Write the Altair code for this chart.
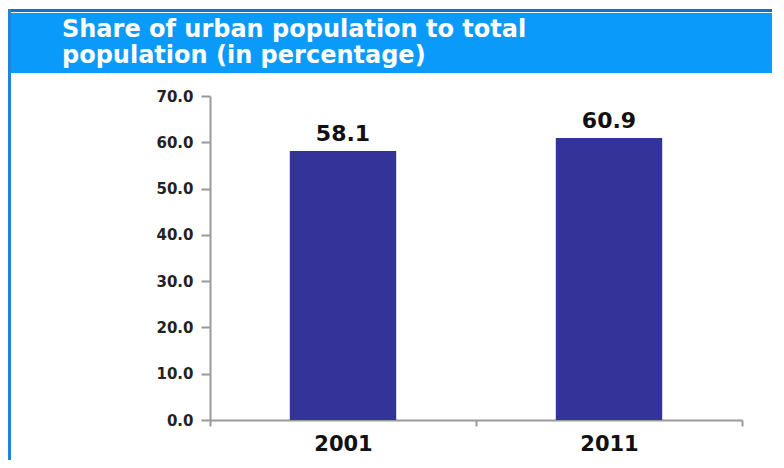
import altair as alt
import pandas as pd

YEARS = ["2001", "2011"]
SHARE = [58.1, 60.9]
LABELS = ["58.1", "60.9"]
TITLE_LINES = ["Share of urban population to total", "population (in percentage)"]
Y_TICKS = [0, 10, 20, 30, 40, 50, 60, 70]

FONT = "DejaVu Sans"
BAR = "#333399"
HEADER = "#0A9BFA"
TOPLINE = "#1070C4"
BORDER = "#2383D6"

df = pd.DataFrame({"year": YEARS, "share": SHARE, "label": LABELS})
one = pd.DataFrame({"d": [0]})

xenc = alt.X(
    "year:N",
    sort=YEARS,
    scale=alt.Scale(paddingInner=0, paddingOuter=0),
    axis=alt.Axis(
        title=None,
        labelAngle=0,
        labelFont=FONT,
        labelFontWeight="bold",
        labelFontSize=21,
        labelColor="#111111",
        labelPadding=7,
        domainColor="#999999",
        domainWidth=2,
        tickColor="#999999",
        tickWidth=2,
        tickSize=6,
        tickBand="extent",
    ),
)
yenc = alt.Y(
    "share:Q",
    scale=alt.Scale(domain=[0, 70], nice=False),
    axis=alt.Axis(
        title=None,
        values=Y_TICKS,
        format=".1f",
        labelFont=FONT,
        labelFontWeight="bold",
        labelFontSize=15,
        labelColor="#222222",
        labelPadding=8,
        domainColor="#999999",
        domainWidth=2,
        tickColor="#999999",
        tickWidth=2,
        tickSize=9,
        grid=False,
    ),
)

bars = alt.Chart(df).mark_bar(color=BAR, width=alt.RelativeBandSize(0.4)).encode(x=xenc, y=yenc)
vals = alt.Chart(df).mark_text(
    font=FONT, fontWeight="bold", fontSize=22, color="#111111", dy=-10, baseline="alphabetic"
).encode(x=alt.X("year:N", sort=YEARS), y="share:Q", text="label:N")

topline = alt.Chart(one).mark_rect(color=TOPLINE).encode(
    x=alt.value(-202), x2=alt.value(566), y=alt.value(-87), y2=alt.value(-84)
)
header = alt.Chart(one).mark_rect(color=HEADER).encode(
    x=alt.value(-200), x2=alt.value(566), y=alt.value(-83), y2=alt.value(-23)
)
border = alt.Chart(one).mark_rect(color=BORDER).encode(
    x=alt.value(-202), x2=alt.value(-199), y=alt.value(-87), y2=alt.value(372)
)
t1 = alt.Chart(one).mark_text(
    font=FONT, fontWeight="bold", fontSize=24, color="white", align="left", baseline="alphabetic"
).encode(x=alt.value(-148), y=alt.value(-59), text=alt.value(TITLE_LINES[0]))
t2 = alt.Chart(one).mark_text(
    font=FONT, fontWeight="bold", fontSize=24, color="white", align="left", baseline="alphabetic"
).encode(x=alt.value(-148), y=alt.value(-33), text=alt.value(TITLE_LINES[1]))

chart = (
    alt.layer(topline, header, border, t1, t2, bars, vals)
    .properties(
        width=532,
        height=324,
        autosize=alt.AutoSizeParams(type="none"),
        padding={"left": 202, "top": 88, "right": 30, "bottom": 40},
        background="white",
    )
    .configure_view(strokeWidth=0)
)

chart.save("out.html", embed_options={"renderer": "svg", "actions": False})
